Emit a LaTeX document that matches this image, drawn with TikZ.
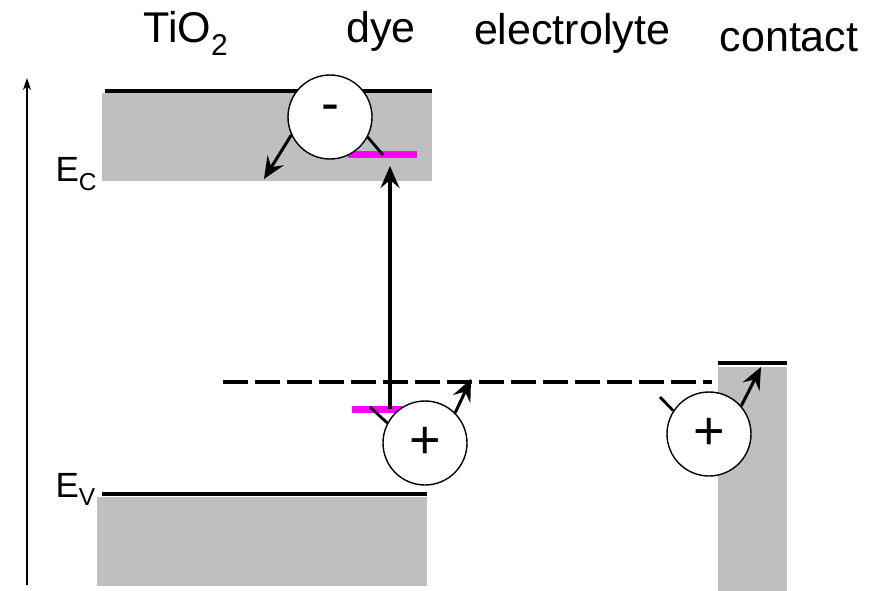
\documentclass[tikz,border=0pt]{standalone}
\usepackage{fontspec}
\setmainfont{Liberation Sans}
\usetikzlibrary{arrows.meta}
\definecolor{dyelevel}{RGB}{255,0,255}
\begin{document}
\begin{tikzpicture}[x=1pt, y=-1pt, >={Stealth[length=22pt, width=19pt, inset=8pt]},
	band/.style={fill=black!25, draw=none},
	edge/.style={line width=4.5pt},
	level/.style={dyelevel, line width=7pt},
	charge/.style={circle, draw, line width=1.4pt, fill=white, minimum size=84pt, inner sep=0pt, font=\fontsize{54}{54}\selectfont},
	hop/.style={->, line width=3pt},
	tick/.style={line width=2.8pt},
	title/.style={anchor=base, font=\fontsize{43}{43}\selectfont},
	elabel/.style={anchor=base west, font=\fontsize{35}{35}\selectfont}]
	\useasboundingbox (0,0) rectangle (881,591);
	% bands
	\fill[band] (102,93) rectangle (432,181);
	\draw[edge] (105,91) -- (432,91);
	\fill[band] (97,497) rectangle (427,586);
	\draw[edge] (102,494) -- (427,494);
	\fill[band] (718,367) rectangle (787,591);
	\draw[edge] (718,363) -- (787,363);
	% energy axis
	\coordinate (axis0) at (27,585);
	\coordinate (axis1) at (27,78);
	\draw[-{Stealth[length=12pt, width=8pt]}, line width=1.2pt] (axis0) -- (axis1);
	% dye levels and redox level
	\draw[level] (348,155) -- (417,155);
	\draw[level] (352,409) -- (403,409);
	\draw[line width=4.5pt, dash pattern=on 25pt off 7pt] (223,382) -- (712,382);
	\coordinate (lumo) at (390,155);
	\coordinate (homo) at (390,409);
	\coordinate (lumoT) at (383,155);
	\coordinate (homoT) at (370,407);
	\coordinate (redoxT) at (660,397);
	\coordinate (inj) at (264,179);
	\coordinate (redox) at (471,379);
	\coordinate (cont) at (761,367);
	\draw[->, line width=3.5pt] (homo) -- ([yshift=-11pt]lumo);
	% charges
	\node[charge] (minus) at (330,117) {\smash{\raisebox{-5pt}{-}}};
	\node[charge] (hole) at (425,443) {+};
	\node[charge] (hole2) at (709,434) {+};
	\draw[tick] (lumoT) -- (minus.-28);
	\draw[hop] (minus.205) -- (inj);
	\draw[tick] (homoT) -- (hole.152);
	\draw[hop] (hole.45) -- (redox);
	\draw[tick] (redoxT) -- (hole2.147);
	\draw[hop] (hole2.41) -- (cont);
	% labels
	\node[title] (tio2) at (186,43) {TiO\textsubscript{2}};
	\node[title] (dye) at (381,43) {dye};
	\node[title] (elyte) at (572,45) {electrolyte};
	\node[title] (contact) at (789,52) {contact};
	\node[elabel] (ec) at (52,182) {E\textsubscript{C}};
	\node[elabel] (ev) at (52,497) {E\textsubscript{V}};
\end{tikzpicture}
\end{document}
